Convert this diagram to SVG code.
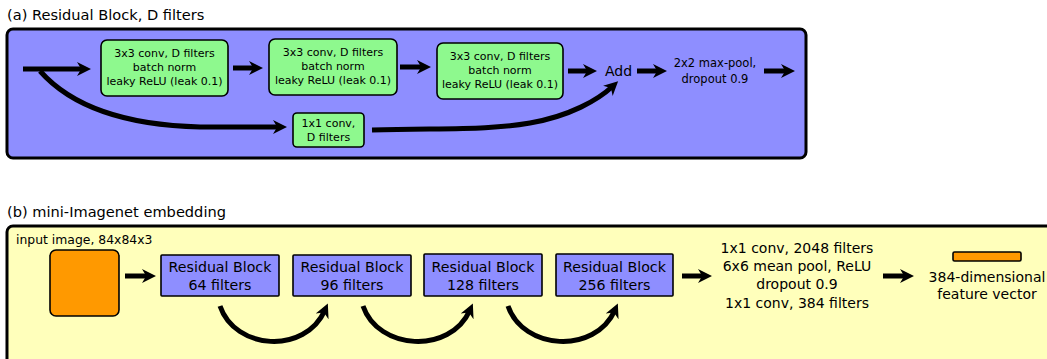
<svg xmlns="http://www.w3.org/2000/svg" width="1047" height="359" viewBox="0 0 1047 359">
<defs>
<marker id="ah" viewBox="0 0 10 10" refX="5" refY="5" markerWidth="3.2" markerHeight="2.8" markerUnits="strokeWidth" orient="auto">
<path d="M0,0 L10,5 L0,10 L3,5 Z" fill="#000"/>
</marker>
<style>
text{font-family:"DejaVu Sans","Liberation Sans",sans-serif;fill:#000}
.panel{stroke:#000;stroke-width:3}
.pa{fill:#8e8eff}
.pb{fill:#ffffbb}
.g{fill:#8ef98e;stroke:#000;stroke-width:1.6}
.rb{fill:#8e8eff;stroke:#000;stroke-width:1.6}
.or{fill:#ff9900;stroke:#000;stroke-width:1.6}
.s{font-size:11px;text-anchor:middle}
.m{font-size:14px;text-anchor:middle}
.r{font-size:14.2px;text-anchor:middle}
.t{font-size:14.6px}
.c{fill:none;stroke:#000;stroke-width:5;marker-end:url(#ah)}
</style>
</defs>
<g id="panel-a">
<text class="t" x="7" y="20">(a) Residual Block, D filters</text>
<rect class="panel pa" x="7" y="29" width="799" height="129" rx="6"/>
</g>
<g id="a-conv1">
<rect class="g" x="101" y="40" width="127" height="56" rx="6"/>
<text class="s" x="164.5" y="57">3x3 conv, D filters</text>
<text class="s" x="164.5" y="71">batch norm</text>
<text class="s" x="164.5" y="85">leaky ReLU (leak 0.1)</text>
</g>
<g id="a-conv2">
<rect class="g" x="269" y="39" width="128" height="56" rx="6"/>
<text class="s" x="333" y="56">3x3 conv, D filters</text>
<text class="s" x="333" y="70">batch norm</text>
<text class="s" x="333" y="84">leaky ReLU (leak 0.1)</text>
</g>
<g id="a-conv3">
<rect class="g" x="437" y="43" width="126" height="56" rx="6"/>
<text class="s" x="500" y="60">3x3 conv, D filters</text>
<text class="s" x="500" y="74">batch norm</text>
<text class="s" x="500" y="88">leaky ReLU (leak 0.1)</text>
</g>
<g id="a-conv1x1">
<rect class="g" x="293" y="113" width="71" height="34" rx="4"/>
<text class="s" x="328.5" y="127">1x1 conv,</text>
<text class="s" x="328.5" y="141">D filters</text>
</g>
<g id="a-add">
<text class="m" x="618.5" y="76">Add</text>
</g>
<g id="a-pool">
<text class="s" x="715" y="67" style="font-size:11.5px">2x2 max-pool,</text>
<text class="s" x="715" y="83" style="font-size:11.5px">dropout 0.9</text>
</g>
<g id="panel-b">
<text class="t" x="7" y="217">(b) mini-Imagenet embedding</text>
<rect class="panel pb" x="7" y="226" width="1070" height="160" rx="6"/>
<text x="16" y="244" style="font-size:12.4px">input image, 84x84x3</text>
</g>
<g id="b-input">
<rect class="or" x="50" y="250" width="69" height="66" rx="6"/>
</g>
<g id="b-rb1">
<rect class="rb" x="161" y="255" width="118" height="41" rx="1"/>
<text class="r" x="220" y="272">Residual Block</text>
<text class="r" x="220" y="290">64 filters</text>
</g>
<g id="b-rb2">
<rect class="rb" x="293" y="255" width="118" height="41" rx="1"/>
<text class="r" x="352" y="272">Residual Block</text>
<text class="r" x="352" y="290">96 filters</text>
</g>
<g id="b-rb3">
<rect class="rb" x="424" y="254" width="118" height="42" rx="1"/>
<text class="r" x="483" y="272">Residual Block</text>
<text class="r" x="483" y="290">128 filters</text>
</g>
<g id="b-rb4">
<rect class="rb" x="556" y="254" width="117" height="42" rx="1"/>
<text class="r" x="614.5" y="272">Residual Block</text>
<text class="r" x="614.5" y="290">256 filters</text>
</g>
<g id="b-head">
<text class="m" x="797" y="253">1x1 conv, 2048 filters</text>
<text class="m" x="797" y="271">6x6 mean pool, ReLU</text>
<text class="m" x="797" y="289">dropout 0.9</text>
<text class="m" x="797" y="308">1x1 conv, 384 filters</text>
</g>
<g id="b-vector">
<rect class="or" x="953" y="252" width="68" height="9" rx="1.5"/>
<text class="m" x="987" y="282">384-dimensional</text>
<text class="m" x="987" y="299">feature vector</text>
</g>
<g id="connectors">
<path class="c" d="M23,69 H84"/>
<path class="c" d="M233,68 H256"/>
<path class="c" d="M400,67 H424"/>
<path class="c" d="M568,71 H590"/>
<path class="c" d="M637,71 H660"/>
<path class="c" d="M764,71 H788"/>
<path class="c" d="M40,71 C70,105 120,125 200,127 L280,127"/>
<path class="c" d="M372,130 C450,128 490,130 530,123 C570,116 598,100 613,86"/>
<path class="c" d="M125,276 H149"/>
<path class="c" d="M682,276 H705"/>
<path class="c" d="M883,276 H907"/>
<path class="c" d="M220,306 C235,350 305,355 325,310"/>
<path class="c" d="M363,306 C378,350 450,355 470,310"/>
<path class="c" d="M508,306 C523,350 595,355 615,310"/>
</g>
</svg>
